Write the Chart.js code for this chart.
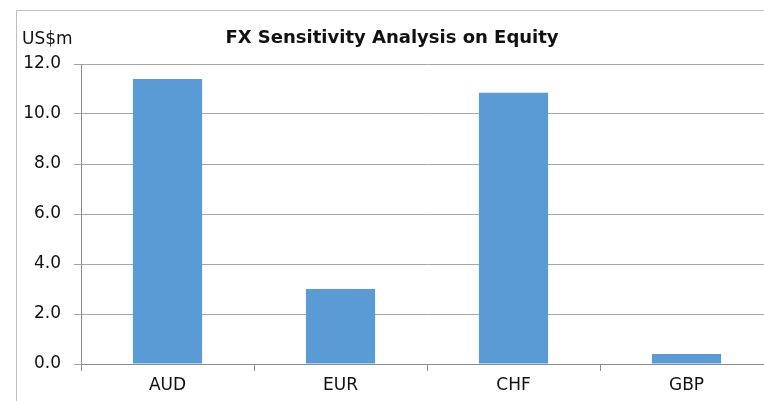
<!DOCTYPE html>
<html>
<head>
<meta charset="utf-8">
<script src="https://cdn.jsdelivr.net/npm/chart.js@4"></script>
<style>
  html, body { margin: 0; padding: 0; background: #fff; }
  #wrap { width: 764px; height: 401px; overflow: hidden; position: relative; }
  canvas { display: block; }
</style>
</head>
<body>
<div id="wrap"><canvas id="fx" width="800" height="410"></canvas></div>
<script>
// values in US$m
const currencies = ['AUD', 'EUR', 'CHF', 'GBP'];
const sensitivity = [11.4, 3.0, 10.85, 0.4];
const chartTitle = 'FX Sensitivity Analysis on Equity';
const unitLabel = 'US$m';

const FONT = "'DejaVu Sans', sans-serif";
const TEXT = '#111';
const GRID = '#a6a6a6';
const AXIS = '#8c8c8c';

// outer frame, title and unit label
const frame = {
  id: 'frame',
  beforeDraw(chart) {
    const c = chart.ctx;
    c.save();
    c.strokeStyle = '#bfbfbf';
    c.lineWidth = 1;
    c.strokeRect(16.5, 10.5, 900, 500);
    c.restore();
  },
  afterDraw(chart) {
    const c = chart.ctx;
    c.save();
    c.fillStyle = TEXT;
    c.textBaseline = 'middle';
    c.font = 'bold 18px ' + FONT;
    c.textAlign = 'center';
    c.fillText(chartTitle, 392, 38);
    c.font = '17px ' + FONT;
    c.textAlign = 'left';
    c.fillText(unitLabel, 22, 40);
    c.restore();
  }
};

new Chart(document.getElementById('fx').getContext('2d'), {
  type: 'bar',
  data: {
    labels: currencies,
    datasets: [{
      data: sensitivity,
      backgroundColor: '#5b9bd5',
      borderWidth: 0,
      barPercentage: 0.4,
      categoryPercentage: 1.0
    }]
  },
  options: {
    responsive: false,
    animation: false,
    layout: { padding: { top: 64, right: 27, left: 0, bottom: 0 } },
    plugins: { legend: { display: false }, tooltip: { enabled: false } },
    scales: {
      x: {
        afterFit(scale) { scale.height = 46; },
        grid: { offset: true, drawOnChartArea: false, drawTicks: true, tickLength: 7, color: AXIS },
        border: { color: AXIS },
        ticks: { color: TEXT, font: { family: FONT, size: 17 }, padding: 4 }
      },
      y: {
        min: 0,
        max: 12,
        afterFit(scale) { scale.width = 81; },
        grid: { color: GRID, tickLength: 7 },
        border: { color: AXIS },
        ticks: {
          stepSize: 2,
          color: TEXT,
          font: { family: FONT, size: 17 },
          padding: 13,
          callback: v => Number(v).toFixed(1)
        }
      }
    }
  },
  plugins: [frame]
});
</script>
</body>
</html>
